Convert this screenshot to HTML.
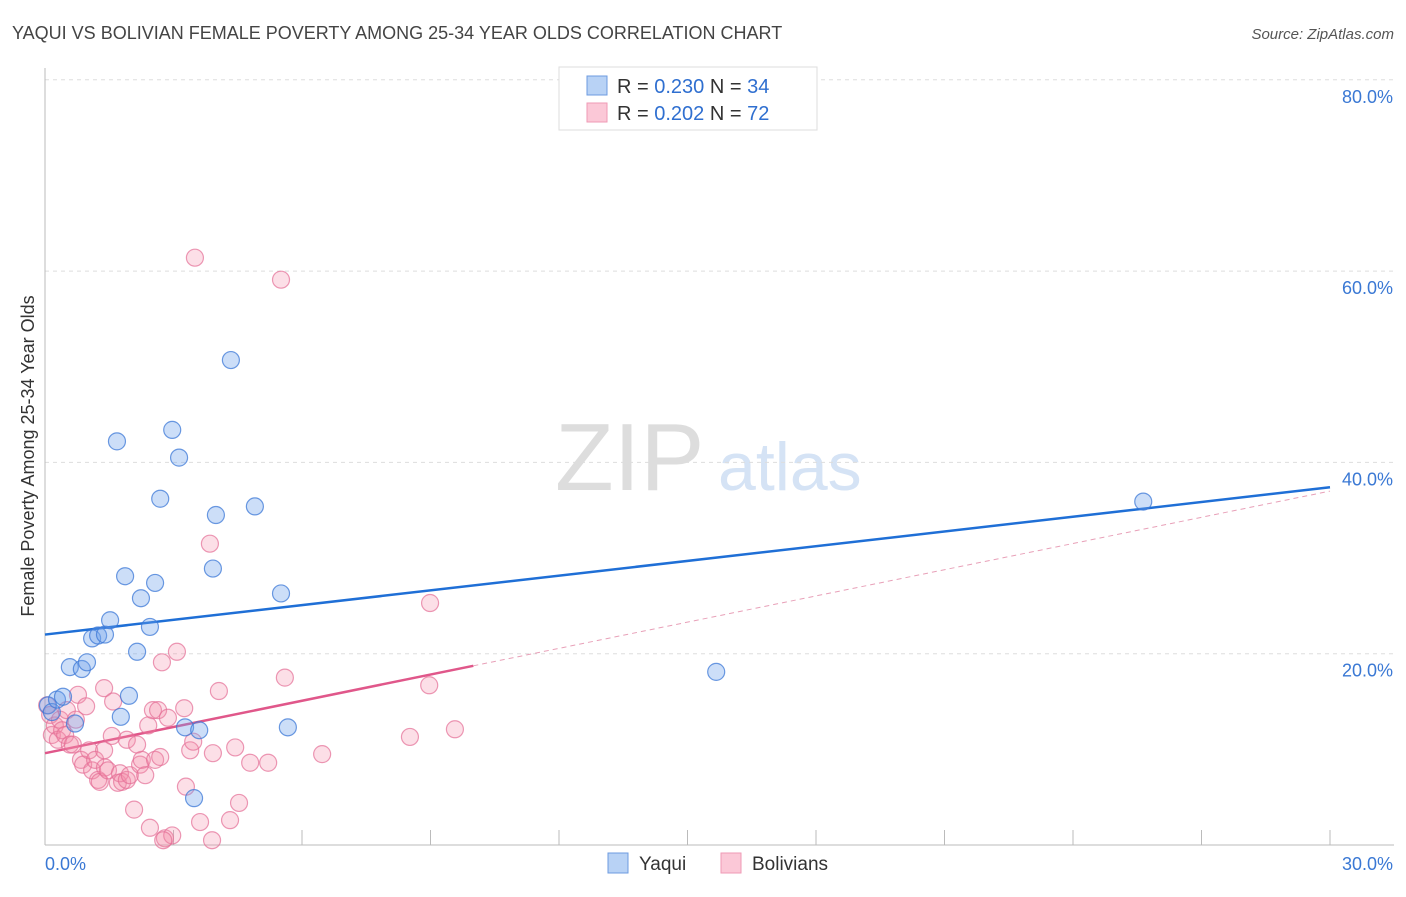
<!DOCTYPE html>
<html><head><meta charset="utf-8"><style>
body{margin:0;background:#fff;font-family:"Liberation Sans",sans-serif;}
svg text{font-family:"Liberation Sans",sans-serif;}
</style></head><body>
<svg id="chart" width="1406" height="892" viewBox="0 0 1406 892" xmlns="http://www.w3.org/2000/svg">
<text x="12" y="39" font-size="18" fill="#444">YAQUI VS BOLIVIAN FEMALE POVERTY AMONG 25-34 YEAR OLDS CORRELATION CHART</text>
<text x="1394" y="39" font-size="15" fill="#555" text-anchor="end" font-style="italic">Source: ZipAtlas.com</text>
<g>
<text x="555" y="490" font-size="96" fill="#ddd" font-family="Liberation Serif,serif">ZIP</text>
<text x="718" y="490" font-size="68" fill="#d5e3f5">atlas</text>
</g>
<g id="grid"></g>
<g id="axes"></g>
<g id="trend"></g>
<g id="pts"></g>
<text transform="translate(34,456) rotate(-90)" font-size="18" fill="#333" text-anchor="middle">Female Poverty Among 25-34 Year Olds</text>
<g>
<rect x="559" y="67" width="258" height="63" fill="#fff" stroke="#ddd"/>
<rect x="587" y="76" width="20" height="19" fill="#b8d2f5" stroke="#6d9be0"/>
<rect x="587" y="103" width="20" height="19" fill="#fbc8d7" stroke="#ef9ab5"/>
<text x="617" y="93" font-size="20" fill="#333">R = <tspan fill="#2f6fd0">0.230</tspan>   N = <tspan fill="#2f6fd0">34</tspan></text>
<text x="617" y="120" font-size="20" fill="#333">R = <tspan fill="#2f6fd0">0.202</tspan>   N = <tspan fill="#2f6fd0">72</tspan></text>
</g>
<g>
<rect x="608" y="853" width="20" height="20" fill="#b8d2f5" stroke="#6d9be0"/>
<text x="639" y="870" font-size="19" fill="#333">Yaqui</text>
<rect x="721" y="853" width="20" height="20" fill="#fbc8d7" stroke="#ef9ab5"/>
<text x="752" y="870" font-size="19" fill="#333">Bolivians</text>
</g>
</svg>
<script>
const yaquiX=[0.07,0.16,0.28,0.42,0.70,0.58,0.86,0.98,1.10,1.24,1.40,1.52,1.68,1.87,1.77,1.96,2.15,2.24,2.45,2.57,2.69,2.97,3.13,3.27,3.60,3.48,3.92,3.99,4.34,4.90,5.51,5.67,15.67,25.64];
const yaquiY=[14.6,13.9,15.2,15.5,12.7,18.6,18.4,19.1,21.6,21.9,22.0,23.5,42.2,28.1,13.4,15.6,20.2,25.8,22.8,27.4,36.2,43.4,40.5,12.3,12.0,4.9,28.9,34.5,50.7,35.4,26.3,12.3,18.1,35.9];
const bolX=[0.05,0.12,0.16,0.23,0.30,0.35,0.40,0.47,0.51,0.58,0.65,0.72,0.77,0.84,0.89,0.96,1.03,1.10,1.17,1.24,1.28,1.38,1.40,1.47,1.56,1.59,1.70,1.75,1.80,1.91,1.91,1.98,2.08,2.15,2.22,2.26,2.34,2.41,2.45,2.52,2.57,2.64,2.69,2.73,2.80,2.87,2.97,3.08,3.25,3.29,3.39,3.46,3.50,3.62,3.85,3.92,3.90,4.06,4.32,4.44,4.53,4.79,5.21,5.51,5.60,6.47,8.52,8.97,8.99,9.57,2.76,1.38];
const bolY=[14.6,13.6,11.5,12.5,11.0,13.1,12.0,11.5,14.1,10.5,10.5,13.1,15.7,8.9,8.4,14.5,9.9,7.8,8.9,6.8,6.6,16.4,8.1,7.8,11.4,15.0,6.5,7.5,6.6,6.8,11.0,7.3,3.7,10.5,8.4,8.9,7.3,12.5,1.8,14.1,8.9,14.1,9.2,19.1,0.7,13.3,1.0,20.2,14.3,6.1,9.9,10.8,61.4,2.4,31.5,9.6,0.5,16.1,2.6,10.2,4.4,8.6,8.6,59.1,17.5,9.5,11.3,16.7,25.3,12.1,0.5,9.9];
const yTicks=[20,40,60,80];
const yTickLabels=["20.0%","40.0%","60.0%","80.0%"];
const xTicks=[0,3,6,9,12,15,18,21,24,27,30];
const yaquiTrend=[22.0,37.4]; // value at x=0 and x=30
const bolTrend=[9.6,37.0];
const bolSolidEnd=10.0;

const NS="http://www.w3.org/2000/svg";
const sx=v=>45+v/30*1285;
const sy=v=>845-v/20*191.3;
function mk(tag,attrs,parent){const e=document.createElementNS(NS,tag);for(const k in attrs)e.setAttribute(k,attrs[k]);parent.appendChild(e);return e;}
const grid=document.getElementById('grid'),axes=document.getElementById('axes'),trend=document.getElementById('trend'),pts=document.getElementById('pts');
yTicks.forEach((t,i)=>{
 const l=mk('line',{x1:45,x2:1394,y1:sy(t),y2:sy(t),stroke:'#ddd','stroke-dasharray':'4,4'},grid);
 
 
 const tx=mk('text',{x:1393,y:sy(t)+23,'font-size':18,fill:'#3a78d4','text-anchor':'end'},axes);
 tx.textContent=yTickLabels[i];
 
 
});
mk('line',{x1:45,x2:45,y1:68,y2:845,stroke:'#bbb'},axes);
mk('line',{x1:45,x2:1394,y1:845,y2:845,stroke:'#bbb'},axes);
xTicks.forEach(t=>{
 const l=mk('line',{x1:sx(t),x2:sx(t),y1:830,y2:845,stroke:'#bbb'},axes);
 
 
});
const x0=mk('text',{x:45,y:870,'font-size':18,fill:'#3a78d4'},axes);x0.textContent='0.0%';


const x1=mk('text',{x:1393,y:870,'font-size':18,fill:'#3a78d4','text-anchor':'end'},axes);x1.textContent='30.0%';



function draw(xs,ys,fill,stroke,name){
 xs.forEach((x,i)=>{
  const c=mk('circle',{cx:sx(x),cy:sy(ys[i]),r:8.5,fill:fill,stroke:stroke,'stroke-width':1.2},pts);
  
  
 });
}
draw(bolX,bolY,'rgba(243,140,170,0.28)','rgba(228,110,150,0.7)','bolivians-point');
draw(yaquiX,yaquiY,'rgba(110,160,235,0.35)','rgba(60,120,215,0.75)','yaqui-point');

const bl=mk('line',{x1:sx(0),y1:sy(yaquiTrend[0]),x2:sx(30),y2:sy(yaquiTrend[1]),stroke:'#1f6fd6','stroke-width':2.5},trend);


const pv=x=>bolTrend[0]+(bolTrend[1]-bolTrend[0])*x/30;
const pl=mk('line',{x1:sx(0),y1:sy(pv(0)),x2:sx(bolSolidEnd),y2:sy(pv(bolSolidEnd)),stroke:'#e0578a','stroke-width':2.5},trend);


const pd=mk('line',{x1:sx(bolSolidEnd),y1:sy(pv(bolSolidEnd)),x2:sx(30),y2:sy(pv(30)),stroke:'#e8a0b8','stroke-width':1,'stroke-dasharray':'5,4'},trend);


</script>
</body></html>
